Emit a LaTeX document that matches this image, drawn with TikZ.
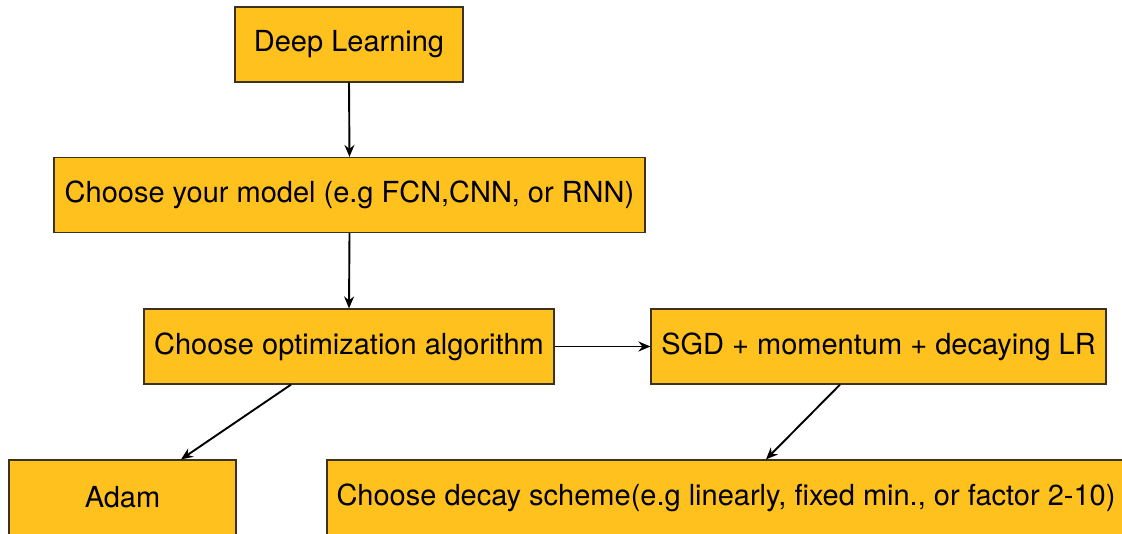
\documentclass[tikz,border=0pt]{standalone}
\usepackage{fontspec}
\setmainfont{TeX Gyre Heros}
\usetikzlibrary{arrows.meta}
\definecolor{boxfill}{RGB}{255,193,30}
\definecolor{boxline}{RGB}{60,50,30}
\begin{document}
\begin{tikzpicture}[x=1pt,y=-1pt,
  flowbox/.style={draw=boxline,line width=1.2pt,fill=boxfill,inner sep=0pt,
    minimum height=75pt,font=\fontsize{29}{33}\selectfont},
  flowarrow/.style={draw=black,line width=1.9pt,-{Stealth[length=12pt,width=10pt,inset=4pt]}}]
\useasboundingbox (0,0) rectangle (1122,534);
\clip (0,0) rectangle (1122,534);
\node[flowbox,minimum width=228pt] (deep) at (349,44.5) {Deep Learning};
\node[flowbox,minimum width=591pt] (model) at (349.5,195) {Choose your model (e.g FCN,CNN, or RNN)};
\node[flowbox,minimum width=410pt] (opt) at (349,346.5) {Choose optimization algorithm};
\node[flowbox,minimum width=455pt] (sgd) at (878.5,346.5) {SGD + momentum + decaying LR};
\node[flowbox,minimum width=227pt] (adam) at (122.5,497.5) {Adam};
\node[flowbox,minimum width=798pt] (decay) at (726,497.5) {Choose decay scheme(e.g linearly, fixed min., or factor 2-10)};
\draw[flowarrow] (deep.south) -- (model.north);
\draw[flowarrow] (model.south) -- (opt.north);
\draw[flowarrow] (opt.east) -- (sgd.west);
\draw[flowarrow] ([xshift=-58pt]opt.south) -- ([xshift=58.5pt]adam.north);
\draw[flowarrow] ([xshift=-38.5pt]sgd.south) -- ([xshift=40pt]decay.north);
\end{tikzpicture}
\end{document}
